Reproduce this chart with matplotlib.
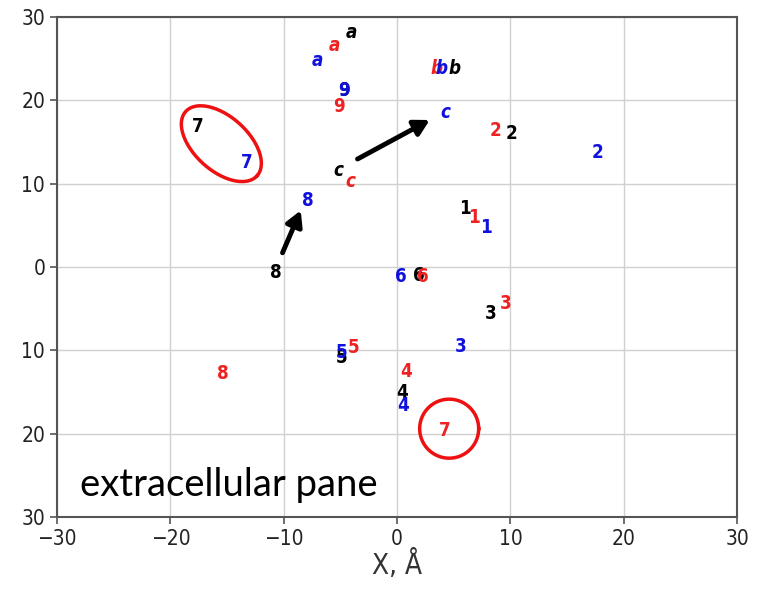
import numpy as np
import matplotlib
matplotlib.use("Agg")
import matplotlib.pyplot as plt

labels = ["a", "b", "c", "1", "2", "3", "4", "5", "6", "7", "8", "9"]
black_x = [-4.0, 5.1, -5.2, 6.0, 10.1, 8.3, 0.4, -4.9, 1.9, -17.6, -10.7, -4.7]
black_y = [28.1, 23.8, 11.6, 7.0, 16.0, -5.6, -15.0, -10.9, -1.0, 16.9, -0.6, 21.2]
red_x = [-5.5, 3.5, -4.1, 6.8, 8.7, 9.6, 0.8, -3.8, 2.3, 4.2, -15.4, -5.1]
red_y = [26.6, 23.8, 10.3, 6.0, 16.4, -4.4, -12.5, -9.6, -1.1, -19.6, -12.8, 19.3]
blue_x = [-7.0, 3.9, 4.3, 7.8, 17.7, 5.6, 0.5, -4.9, 0.3, -13.3, -7.9, -4.7]
blue_y = [24.8, 23.8, 18.5, 4.7, 13.8, -9.5, -16.6, -10.2, -1.1, 12.5, 8.0, 21.2]

ticks = [-30, -20, -10, 0, 10, 20, 30]
xtick_labels = ["\u221230", "\u221220", "\u221210", "0", "10", "20", "30"]
ytick_labels = ["30", "20", "10", "0", "10", "20", "30"]

# arrows: (tail_x, tail_y, head_x, head_y)
arrow_c = (-3.7, 12.8, 3.1, 17.8)
arrow_8 = (-10.2, 1.4, -8.4, 7.1)

fig = plt.figure(figsize=(7.65, 5.97), dpi=100)
ax = fig.add_axes([0.0745, 0.134, 0.889, 0.8375])
ax.set_xlim(-30, 30)
ax.set_ylim(-30, 30)
ax.set_xticks(ticks)
ax.set_yticks(ticks)
ax.set_xticklabels(xtick_labels)
ax.set_yticklabels(ytick_labels[::-1])
ax.grid(True, color="#d0d0d0", linewidth=1.0)
ax.set_axisbelow(True)
for s in ax.spines.values():
    s.set_color("#555555")
    s.set_linewidth(1.5)
ax.tick_params(length=5, width=1.2, color="#555555", labelsize=15, labelcolor="#222222")
for t in ax.get_xticklabels() + ax.get_yticklabels():
    t.set_fontstretch("condensed")
ax.set_xlabel("X, \u00c5", fontsize=20, color="#333333", fontstretch="condensed", labelpad=1)

def draw(xs, ys, color):
    for lab, x, y in zip(labels, xs, ys):
        style = "italic" if lab.isalpha() else "normal"
        ax.text(x, y, lab, color=color, fontsize=13.5, fontweight="bold", fontstyle=style,
                ha="center", va="center", fontstretch="condensed")

draw(black_x, black_y, "black")
draw(red_x, red_y, "#ee2222")
draw(blue_x, blue_y, "#1111dd")

for (x0, y0, x1, y1) in [arrow_c, arrow_8]:
    ax.annotate("", xy=(x1, y1), xytext=(x0, y0),
                arrowprops=dict(arrowstyle="-|>,head_length=0.9,head_width=0.5", color="black", lw=3.5))

# ellipse around the 7s (drawn in pixel-proportional units)
sx, sy = 11.33, 8.33
t = np.linspace(0, 2 * np.pi, 200)
a, b, th = 48, 27, np.deg2rad(-42)
px = a * np.cos(t) * np.cos(th) - b * np.sin(t) * np.sin(th)
py = a * np.cos(t) * np.sin(th) + b * np.sin(t) * np.cos(th)
ax.plot(-15.5 + px / sx, 14.8 + py / sy, color="#ee1111", lw=2.5)
r = 29.5
ax.plot(4.6 + r * np.cos(t) / sx, -19.4 + r * np.sin(t) / sy, color="#ee1111", lw=2.5)

ax.text(-28.0, -26.2, "extracellular pane", fontsize=27.5, family="Lato", color="black",
        ha="left", va="center")

fig.savefig("out.png", dpi=100)
